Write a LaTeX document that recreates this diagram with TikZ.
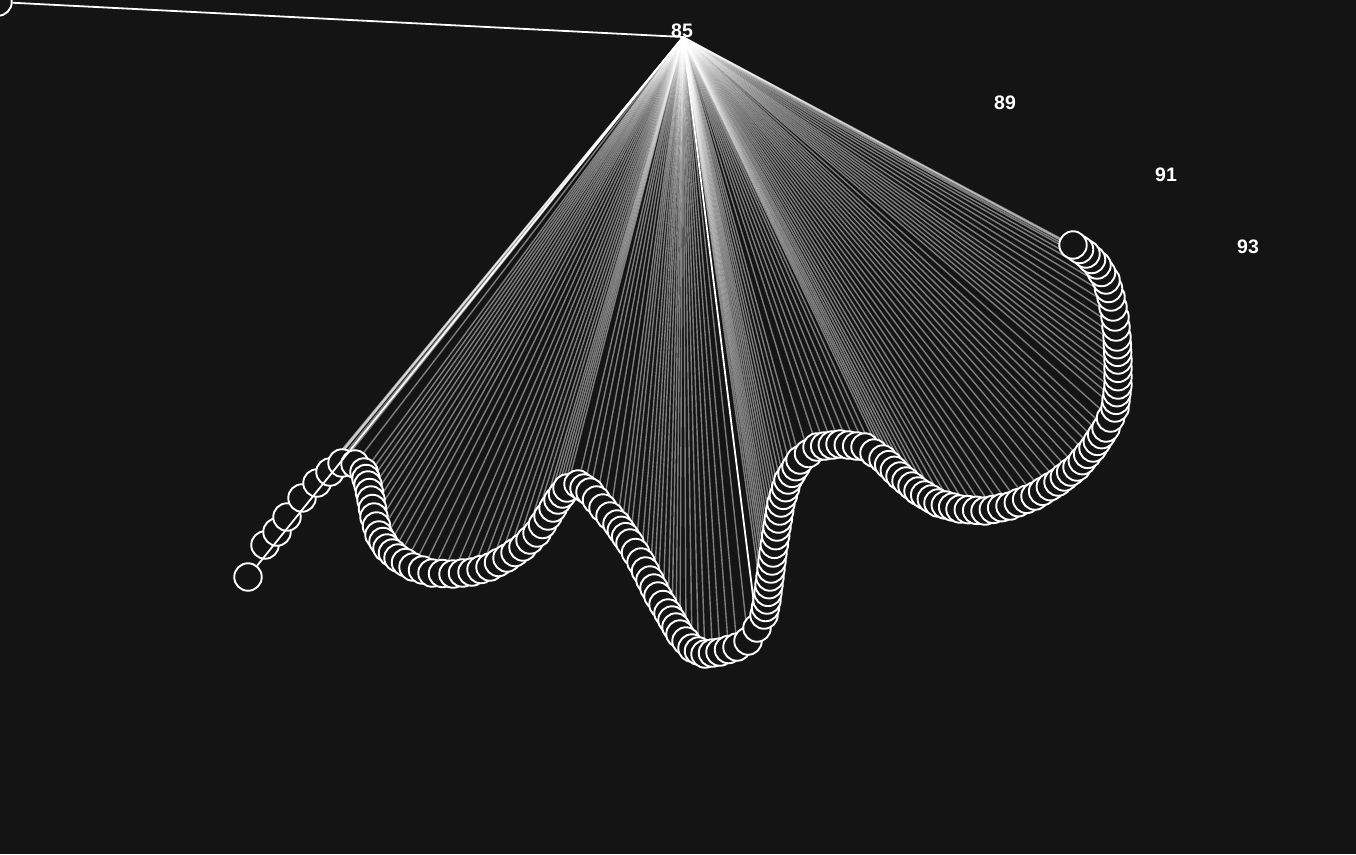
\documentclass[tikz,border=0pt]{standalone}
\usepackage{fontspec}
\setmainfont{Liberation Sans}
\usetikzlibrary{positioning, calc}
\definecolor{bgc}{RGB}{20,20,20}
\pgfdeclarelayer{bglayer}
\pgfdeclarelayer{linelayer}
\pgfsetlayers{bglayer,linelayer,main}
\newcounter{ballno}

\begin{document}
\begin{tikzpicture}[x=1pt, y=-1pt,
    ball/.style = {draw=white, circle, fill=bgc, line width=1.9pt, minimum size=27.5pt, inner sep=0pt},
    link/.style = {white, opacity=0.45, line width=1.4pt},
    hot/.style = {white, line width=1.8pt},
    num/.style = {white, font=\fontsize{19.5}{22}\selectfont\bfseries, inner sep=0pt}]
	\useasboundingbox (0,0) rectangle (1356,854);
	\begin{pgfonlayer}{bglayer}
		\fill[bgc] (0,0) rectangle (1356,854);
	\end{pgfonlayer}
	\coordinate (hub) at (683,37);
	\node[num] (n85) at (682,31) {85};
	\node[num] (n89) at (1005,103) {89};
	\node[num] (n91) at (1166,175) {91};
	\node[num] (n93) at (1248,247) {93};
	% corner ball and tail
	\node[ball] (c0) at (-2,2) {};
	\foreach \x/\y [count=\k] in {248/577, 265/545, 277/532, 287/517, 302/498, 317/483, 330/472}
		\node[ball] (t\k) at (\x,\y) {};
	% first stretch of the chain
	\foreach \x/\y [remember=\x as \px (initially 342), remember=\y as \py (initially 463)] in
		{342/463, 355/464, 364/472, 368/485, 371/500, 374/517, 379/535, 387/548, 398/558, 413/567,
		432/573, 453/574, 472/572, 490/567, 507/558, 523/547, 537/533, 548/516, 558/500, 567/488,
		578/484, 590/492, 603/508, 617/524, 630/543, 641/562, 650/580, 658/596, 668/613, 680/634,
		692/648, 705/654, 720/652, 737/647, 748/641} {
		\pgfmathtruncatemacro\n{max(1, round(veclen(\x-\px,\y-\py)/9))}
		\foreach \j in {1,...,\n} {
			\stepcounter{ballno}
			\pgfmathsetmacro\f{\j/\n}
			\node[ball] (b\theballno) at ($(\px,\py)!\f!(\x,\y)$) {};
		}
	}
	\node[ball] (mid) at (757,628) {};
	% second stretch of the chain
	\foreach \x/\y [remember=\x as \px (initially 764), remember=\y as \py (initially 615)] in
		{764/615, 767/600, 770/577, 773/553, 777/527, 781/503, 788/480, 800/460, 817/447, 840/444,
		865/447, 883/459, 900/476, 918/491, 938/503, 960/509, 985/511, 1010/506, 1035/496, 1058/482,
		1077/467, 1093/448, 1106/428, 1115/408, 1118/385, 1118/360, 1117/337, 1115/317, 1111/297,
		1106/280, 1097/265, 1086/254, 1073/245} {
		\pgfmathtruncatemacro\n{max(1, round(veclen(\x-\px,\y-\py)/9))}
		\foreach \j in {1,...,\n} {
			\stepcounter{ballno}
			\pgfmathsetmacro\f{\j/\n}
			\node[ball] (b\theballno) at ($(\px,\py)!\f!(\x,\y)$) {};
		}
	}
	\xdef\nballs{\theballno}
	\begin{pgfonlayer}{linelayer}
		\foreach \i in {1,...,\nballs}
			\draw[link] (hub) -- (b\i);
		\foreach \k in {2,...,7}
			\draw[link] (hub) -- (t\k);
		\draw[hot] (hub) -- (mid);
		\draw[hot] (hub) -- (c0);
	\end{pgfonlayer}
	\draw[hot] (hub) -- (t1);
\end{tikzpicture}
\end{document}
